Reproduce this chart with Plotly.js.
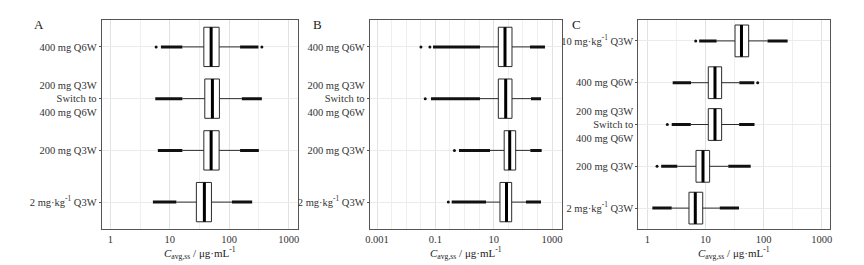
<!DOCTYPE html>
<html><head><meta charset="utf-8">
<script src="https://cdn.plot.ly/plotly-3.0.1.min.js"></script>
<style>html,body{margin:0;padding:0;background:#fff}#chart{width:864px;height:265px}</style>
</head><body><div id="chart"></div>
<script>
// ---------- categories (top to bottom) ----------
const catsAB = ['400 mg Q6W', '200 mg Q3W<br>Switch to<br>400 mg Q6W', '200 mg Q3W', '2 mg·kg<sup>-1</sup> Q3W'];
const catsC = ['10 mg·kg<sup>-1</sup> Q3W', '400 mg Q6W', '200 mg Q3W<br>Switch to<br>400 mg Q6W', '200 mg Q3W', '2 mg·kg<sup>-1</sup> Q3W'];

// ---------- Panel A ----------
const aQ1 = [37.4, 38.8, 37.4, 28.0];
const aMed = [49.6, 52.1, 49.6, 38.2];
const aQ3 = [67.6, 68.4, 67.6, 50.2];
const aLoFence = [16.3, 16.3, 16.3, 12.9];
const aHiFence = [152, 163, 152, 111];
const aLoOutMin = [7.1, 5.7, 6.3, 5.2];
const aHiOutMax = [310, 354, 315, 243];
const aLoDots = [[5.9], [], [], []];
const aHiDots = [[354], [], [], []];

// ---------- Panel B ----------
const bQ1 = [14.4, 14.4, 22.9, 16.4];
const bMed = [24.4, 25.8, 35.4, 27.5];
const bQ3 = [42.4, 42.4, 56.7, 41.4];
const bLoFence = [3.39, 3.39, 7.47, 5.45];
const bHiFence = [175, 190, 180, 128];
const bLoOutMin = [0.083, 0.071, 0.645, 0.363];
const bHiOutMax = [573, 419, 442, 419];
const bLoDots = [[0.032, 0.065], [0.045], [0.45], [0.278]];
const bHiDots = [[], [], [], []];

// ---------- Panel C ----------
const cQ1 = [32.3, 11.2, 11.2, 6.88, 5.21];
const cMed = [41.7, 14.6, 14.6, 9.08, 6.69];
const cQ3 = [55.5, 19.0, 19.0, 11.8, 8.98];
const cLoFence = [15.6, 5.65, 5.6, 3.28, 2.63];
const cHiFence = [117, 38.3, 38.0, 24.7, 17.6];
const cLoOutMin = [7.8, 2.73, 2.63, 1.73, 1.22];
const cHiOutMax = [260, 69.3, 69.9, 60.1, 37.8];
const cLoDots = [[6.8], [], [2.21], [1.47], []];
const cHiDots = [[], [79.3], [], [], []];

// tick labels
const tickA = [1, 10, 100, 1000];
const tickB = [0.001, 0.1, 10, 1000];
const tickC = [1, 10, 100, 1000];

const FONT = 'Liberation Serif, Times New Roman, serif';
const BOXW = 0.76;

function panel(xa, ya, cats, q1, med, q3, lf, uf, loMin, hiMax, loDots, hiDots) {
  const pos = cats.map((_, i) => i + 1);
  const traces = [];
  traces.push({
    type: 'box', orientation: 'h', xaxis: xa, yaxis: ya,
    y: pos, q1: q1, median: med, q3: q3, lowerfence: lf, upperfence: uf,
    width: BOXW, boxpoints: false, whiskerwidth: 0,
    fillcolor: '#ffffff', line: {color: '#2a2a2a', width: 1},
    hoverinfo: 'skip', showlegend: false
  });
  // thick median
  const mx = [], my = [];
  pos.forEach((p, i) => { mx.push(med[i], med[i], null); my.push(p - BOXW / 2, p + BOXW / 2, null); });
  traces.push({type: 'scatter', mode: 'lines', xaxis: xa, yaxis: ya, x: mx, y: my,
    line: {color: '#000', width: 3}, hoverinfo: 'skip', showlegend: false});
  // dense outlier runs
  const ox = [], oy = [];
  pos.forEach((p, i) => {
    ox.push(loMin[i], lf[i], null, uf[i], hiMax[i], null);
    oy.push(p, p, null, p, p, null);
  });
  traces.push({type: 'scatter', mode: 'lines', xaxis: xa, yaxis: ya, x: ox, y: oy,
    line: {color: '#111', width: 3}, hoverinfo: 'skip', showlegend: false});
  // isolated outlier dots
  const dx = [], dy = [];
  pos.forEach((p, i) => {
    loDots[i].forEach(v => { dx.push(v); dy.push(p); });
    hiDots[i].forEach(v => { dx.push(v); dy.push(p); });
  });
  traces.push({type: 'scatter', mode: 'markers', xaxis: xa, yaxis: ya, x: dx, y: dy,
    marker: {color: '#111', size: 3}, hoverinfo: 'skip', showlegend: false});
  return traces;
}

const data = [].concat(
  panel('x', 'y', catsAB, aQ1, aMed, aQ3, aLoFence, aHiFence, aLoOutMin, aHiOutMax, aLoDots, aHiDots),
  panel('x2', 'y2', catsAB, bQ1, bMed, bQ3, bLoFence, bHiFence, bLoOutMin, bHiOutMax, bLoDots, bHiDots),
  panel('x3', 'y3', catsC, cQ1, cMed, cQ3, cLoFence, cHiFence, cLoOutMin, cHiOutMax, cLoDots, cHiDots)
);

function xAxis(domain, range, tv, anchor, minorStep, tick0) {
  return {
    domain: domain, type: 'log', range: range, anchor: anchor,
    tickmode: 'array', tickvals: tv, ticktext: tv.map(v => String(v)),
    showgrid: true, gridcolor: '#e2e2e2', gridwidth: 1,
    minor: {tickmode: 'linear', tick0: tick0, dtick: minorStep, showgrid: true, gridcolor: '#efefef', gridwidth: 1, ticks: ''},
    showline: true, mirror: true, linecolor: '#555', linewidth: 1,
    ticks: '', zeroline: false,
    tickfont: {family: FONT, size: 10.5, color: '#333'}, fixedrange: true
  };
}
function yAxis(cats, range, anchor) {
  return {
    domain: [0.1358, 0.9245], range: range, anchor: anchor,
    tickmode: 'array', tickvals: cats.map((_, i) => i + 1), ticktext: cats,
    showgrid: true, gridcolor: '#ebebeb', gridwidth: 1,
    showline: true, mirror: true, linecolor: '#555', linewidth: 1,
    ticks: 'outside', ticklen: 2, tickcolor: '#555', zeroline: false,
    tickfont: {family: FONT, size: 10.5, color: '#333'}, fixedrange: true
  };
}

const xTitle = '<i>C</i><sub>avg,ss</sub> / μg·mL<sup>-1</sup>';
function ann(text, x, y, size) {
  return {text: text, x: x, y: y, xref: 'paper', yref: 'paper', xanchor: 'center', yanchor: 'middle',
    showarrow: false, font: {family: FONT, size: size, color: '#222'}};
}

const layout = {
  width: 864, height: 265, margin: {l: 0, r: 0, t: 0, b: 0},
  paper_bgcolor: '#fff', plot_bgcolor: '#fff', showlegend: false,
  xaxis: xAxis([0.1177, 0.3446], [-0.145, 3.152], tickA, 'y', 0.5, 0),
  yaxis: yAxis(catsAB, [4.52, 0.48], 'x'),
  xaxis2: xAxis([0.4279, 0.6508], [-3.251, 3.352], tickB, 'y2', 0.5, -3),
  yaxis2: yAxis(catsAB, [4.52, 0.48], 'x2'),
  xaxis3: xAxis([0.7388, 0.9606], [-0.155, 3.143], tickC, 'y3', 0.5, 0),
  yaxis3: yAxis(catsC, [5.5, 0.5], 'x3'),
  annotations: [
    ann('A', 0.0451, 0.9075, 13), ann('B', 0.368, 0.9075, 13), ann('C', 0.6667, 0.9075, 13),
    ann(xTitle, 0.2311, 0.045, 11), ann(xTitle, 0.5394, 0.045, 11), ann(xTitle, 0.8497, 0.045, 11)
  ]
};

Plotly.newPlot('chart', data, layout, {staticPlot: true, displayModeBar: false});
</script></body></html>
